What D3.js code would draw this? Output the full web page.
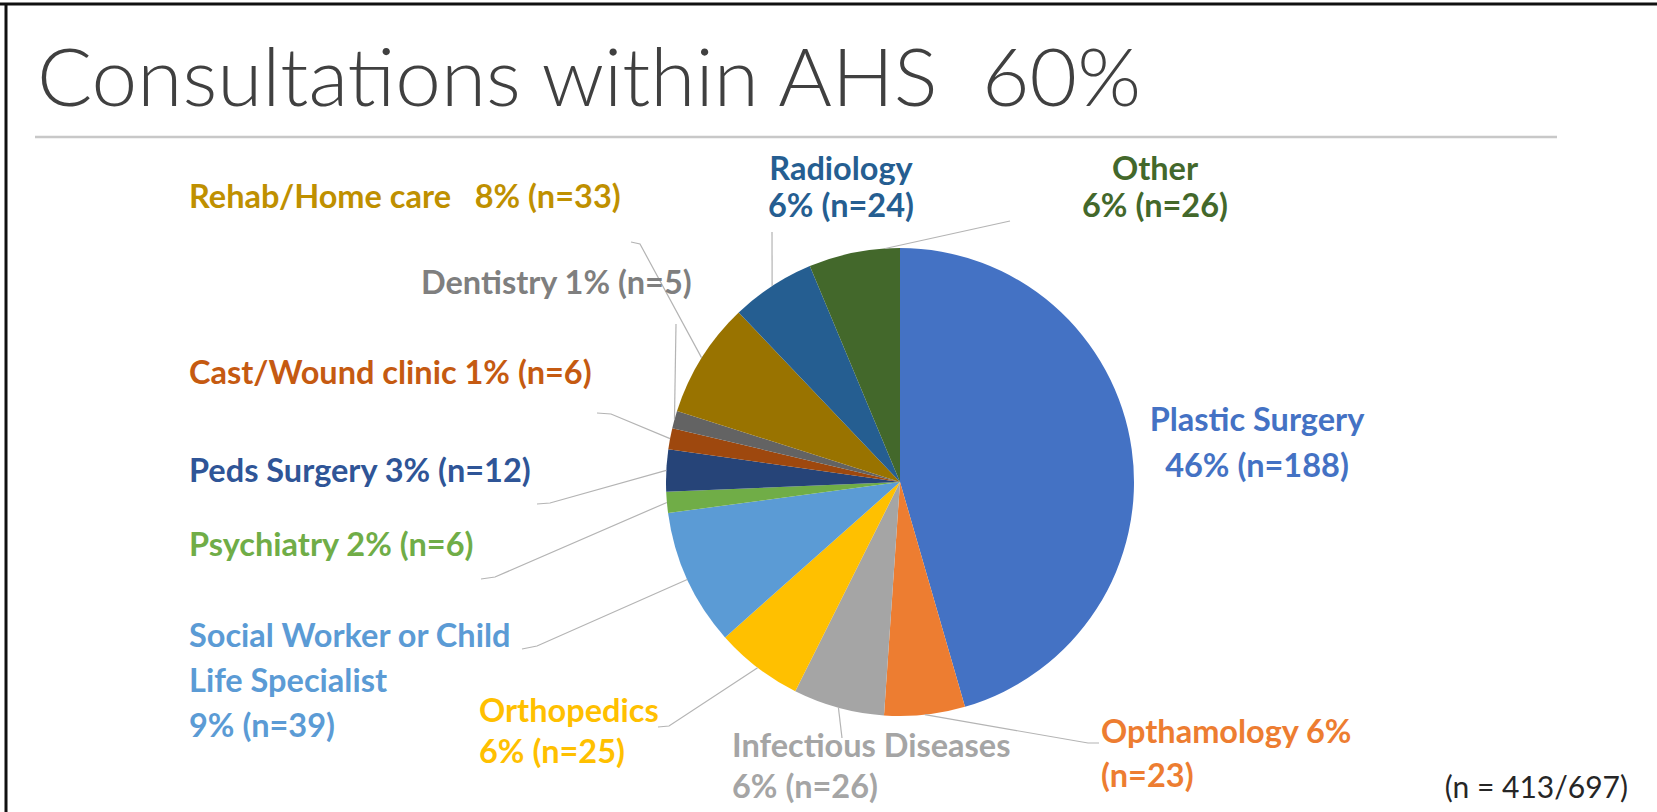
<!DOCTYPE html>
<html>
<head>
<meta charset="utf-8">
<script src="https://cdn.jsdelivr.net/npm/d3@7"></script>
<style>
  html, body { margin: 0; padding: 0; background: #fff; }
  svg { display: block; }
</style>
</head>
<body>
<div id="chart"></div>
<script>
// data
const categories = [
  "Plastic Surgery", "Opthamology", "Infectious Diseases", "Orthopedics",
  "Social Worker or Child Life Specialist", "Psychiatry", "Peds Surgery",
  "Cast/Wound clinic", "Dentistry", "Rehab/Home care", "Radiology", "Other"
];
const counts = [188, 23, 26, 25, 39, 6, 12, 6, 5, 33, 24, 26];
const percents = ["46%", "6%", "6%", "6%", "9%", "2%", "3%", "1%", "1%", "8%", "6%", "6%"];
const sliceColors = ["#4472C4", "#ED7D31", "#A5A5A5", "#FFC000", "#5B9BD5", "#70AD47",
  "#264478", "#9E480E", "#636363", "#997300", "#255E91", "#43682B"];
const labelColors = ["#4472C4", "#ED7D31", "#A5A5A5", "#FFC000", "#5B9BD5", "#70AD47",
  "#2F5597", "#C55A11", "#7F7F7F", "#BF9000", "#255E91", "#43682B"];
const titleText = "Consultations within AHS  60%";
const noteText = "(n = 413/697)";

// label layout (page positions), one entry per category
const labelLayout = [
  { lines: ["Plastic Surgery", "46% (n=188)"], x: 1257, y: 431, lh: 46, anchor: "middle", leader: null },
  { lines: ["Opthamology 6%", "(n=23)"], x: 1101, y: 743, lh: 44, anchor: "start", leader: [[1099, 743], [1088, 743]] },
  { lines: ["Infectious Diseases", "6% (n=26)"], x: 732, y: 757, lh: 41, anchor: "start", leader: [[842, 738]] },
  { lines: ["Orthopedics", "6% (n=25)"], x: 479, y: 722, lh: 41, anchor: "start", leader: [[658, 727], [669, 726]] },
  { lines: ["Social Worker or Child", "Life Specialist", "9% (n=39)"], x: 189, y: 647, lh: 45, anchor: "start", leader: [[522, 649], [537, 646]] },
  { lines: ["Psychiatry 2% (n=6)"], x: 189, y: 556, lh: 0, anchor: "start", leader: [[481, 579], [495, 577]] },
  { lines: ["Peds Surgery 3% (n=12)"], x: 189, y: 482, lh: 0, anchor: "start", leader: [[537, 504], [550, 503]] },
  { lines: ["Cast/Wound clinic 1% (n=6)"], x: 189, y: 384, lh: 0, anchor: "start", leader: [[597, 413], [611, 414]] },
  { lines: ["Dentistry 1% (n=5)"], x: 421, y: 294, lh: 0, anchor: "start", leader: [[676, 324]] },
  { lines: ["Rehab/Home care\u00a0\u00a0\u00a08% (n=33)"], x: 189, y: 208, lh: 0, anchor: "start", leader: [[631, 242], [640, 244]] },
  { lines: ["Radiology", "6% (n=24)"], x: 841, y: 180, lh: 37, anchor: "middle", leader: [[772, 232]] },
  { lines: ["Other", "6% (n=26)"], x: 1155, y: 180, lh: 37, anchor: "middle", leader: [[1010, 221]], at: 0.84 }
];

const W = 1657, H = 812;
const cx = 900, cy = 482, radius = 234;
const labelFont = "Lato, 'Open Sans', sans-serif";

const svg = d3.select("#chart").append("svg")
  .attr("width", W).attr("height", H)
  .attr("viewBox", `0 0 ${W} ${H}`);

// frame
svg.append("line").attr("x1", 0).attr("x2", W).attr("y1", 4).attr("y2", 4)
  .attr("stroke", "#111").attr("stroke-width", 3);
svg.append("line").attr("x1", 6).attr("x2", 6).attr("y1", 3).attr("y2", H)
  .attr("stroke", "#111").attr("stroke-width", 3);

// title and rule
svg.append("text")
  .attr("x", 37).attr("y", 106)
  .attr("font-family", "Lato, 'Open Sans', sans-serif")
  .attr("font-weight", 300)
  .attr("font-size", 80)
  .attr("fill", "#404040")
  .attr("textLength", 1104)
  .attr("lengthAdjust", "spacingAndGlyphs")
  .style("white-space", "pre")
  .text(titleText);

svg.append("line").attr("x1", 35).attr("x2", 1557).attr("y1", 137).attr("y2", 137)
  .attr("stroke", "#C8C8C8").attr("stroke-width", 2.5);

// pie
const pie = d3.pie().sort(null).value((d) => d)(counts);
const arc = d3.arc().innerRadius(0).outerRadius(radius);

const group = svg.append("g").attr("transform", `translate(${cx},${cy})`);
group.selectAll("path.slice").data(pie).join("path")
  .attr("class", "slice")
  .attr("d", arc)
  .attr("fill", (d, i) => sliceColors[i]);

// leader lines
const edgePoint = (d, frac) => {
  const a = d.startAngle + (d.endAngle - d.startAngle) * frac;
  return [cx + radius * Math.sin(a), cy - radius * Math.cos(a)];
};

labelLayout.forEach((lab, i) => {
  if (!lab.leader) return;
  const pts = lab.leader.concat([edgePoint(pie[i], lab.at == null ? 0.5 : lab.at)]);
  svg.append("path")
    .attr("d", d3.line()(pts))
    .attr("fill", "none")
    .attr("stroke", "#B4B4B4")
    .attr("stroke-width", 1.2);
});

// labels
labelLayout.forEach((lab, i) => {
  const t = svg.append("text")
    .attr("x", lab.x).attr("y", lab.y)
    .attr("text-anchor", lab.anchor)
    .attr("font-family", labelFont)
    .attr("font-weight", 700)
    .attr("font-size", 32.5)
    .attr("fill", labelColors[i]);
  lab.lines.forEach((line, k) => {
    t.append("tspan").attr("x", lab.x).attr("y", lab.y + k * lab.lh).text(line);
  });
});

svg.append("text")
  .attr("x", 1628).attr("y", 798)
  .attr("text-anchor", "end")
  .attr("font-family", labelFont)
  .attr("font-size", 30)
  .attr("fill", "#262626")
  .text(noteText);
</script>
</body>
</html>
